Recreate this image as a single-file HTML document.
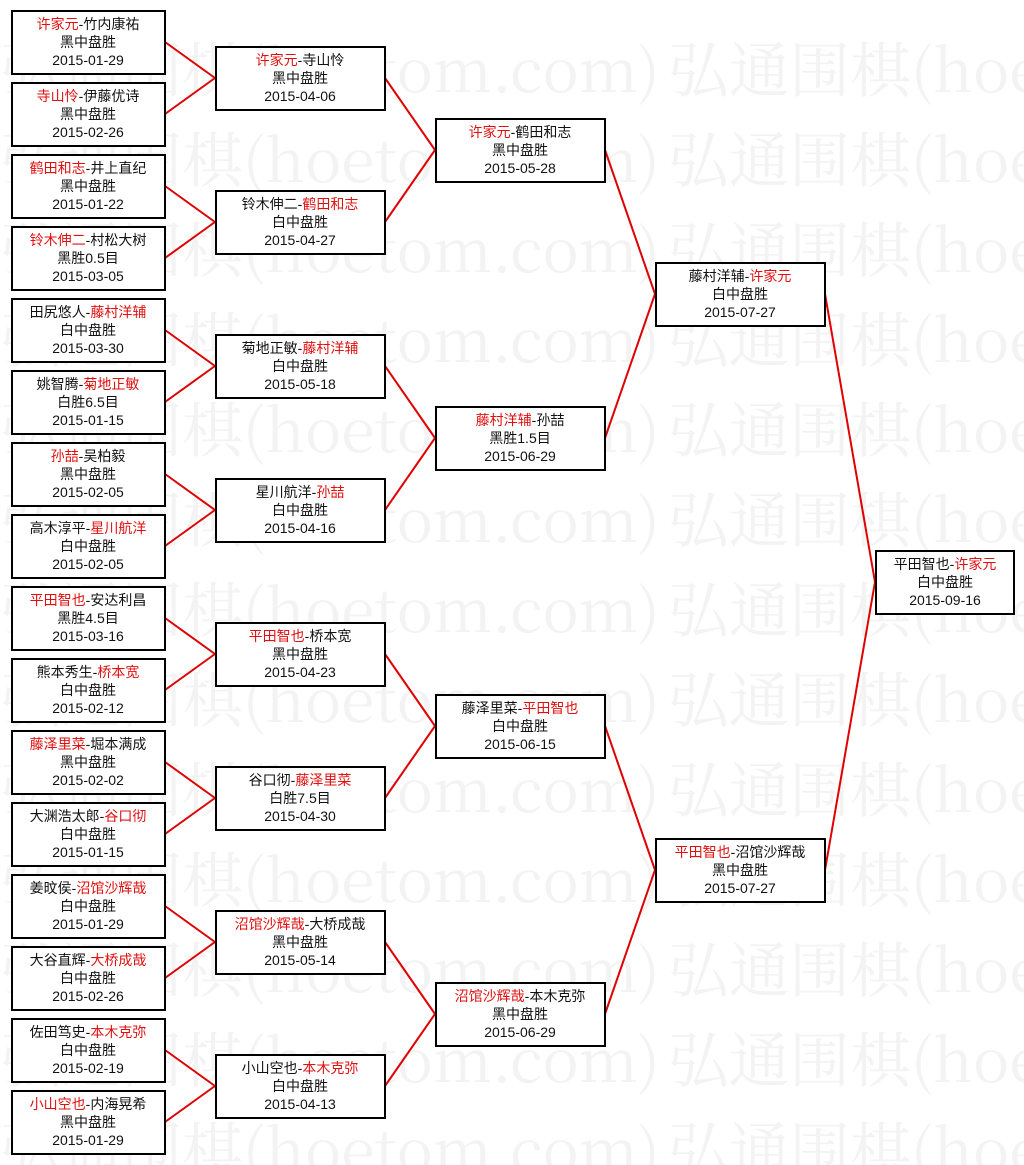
<!DOCTYPE html>
<html><head><meta charset="utf-8"><style>
html,body{margin:0;padding:0;background:#fff;width:1024px;height:1165px;overflow:hidden}
svg{display:block}
.wm{font-family:"Noto Serif CJK SC","Liberation Serif",serif;font-size:60px;fill:#f3f3f3}
.t{font-family:"Liberation Sans","Noto Sans CJK SC",sans-serif;font-size:14px;fill:#111;text-anchor:middle}
.r{fill:#e01010}
rect{fill:#fff;stroke:#000;stroke-width:2}
line{stroke:#e00000;stroke-width:2}
</style></head><body>
<svg width="1024" height="1165" xmlns="http://www.w3.org/2000/svg">
<g class="wm">
<text x="0" y="92" textLength="660" lengthAdjust="spacingAndGlyphs">弘通围棋(hoetom.com)</text><text x="668" y="92" textLength="660" lengthAdjust="spacingAndGlyphs">弘通围棋(hoetom.com)</text>
<text x="0" y="182" textLength="660" lengthAdjust="spacingAndGlyphs">弘通围棋(hoetom.com)</text><text x="668" y="182" textLength="660" lengthAdjust="spacingAndGlyphs">弘通围棋(hoetom.com)</text>
<text x="0" y="272" textLength="660" lengthAdjust="spacingAndGlyphs">弘通围棋(hoetom.com)</text><text x="668" y="272" textLength="660" lengthAdjust="spacingAndGlyphs">弘通围棋(hoetom.com)</text>
<text x="0" y="362" textLength="660" lengthAdjust="spacingAndGlyphs">弘通围棋(hoetom.com)</text><text x="668" y="362" textLength="660" lengthAdjust="spacingAndGlyphs">弘通围棋(hoetom.com)</text>
<text x="0" y="452" textLength="660" lengthAdjust="spacingAndGlyphs">弘通围棋(hoetom.com)</text><text x="668" y="452" textLength="660" lengthAdjust="spacingAndGlyphs">弘通围棋(hoetom.com)</text>
<text x="0" y="542" textLength="660" lengthAdjust="spacingAndGlyphs">弘通围棋(hoetom.com)</text><text x="668" y="542" textLength="660" lengthAdjust="spacingAndGlyphs">弘通围棋(hoetom.com)</text>
<text x="0" y="632" textLength="660" lengthAdjust="spacingAndGlyphs">弘通围棋(hoetom.com)</text><text x="668" y="632" textLength="660" lengthAdjust="spacingAndGlyphs">弘通围棋(hoetom.com)</text>
<text x="0" y="722" textLength="660" lengthAdjust="spacingAndGlyphs">弘通围棋(hoetom.com)</text><text x="668" y="722" textLength="660" lengthAdjust="spacingAndGlyphs">弘通围棋(hoetom.com)</text>
<text x="0" y="812" textLength="660" lengthAdjust="spacingAndGlyphs">弘通围棋(hoetom.com)</text><text x="668" y="812" textLength="660" lengthAdjust="spacingAndGlyphs">弘通围棋(hoetom.com)</text>
<text x="0" y="902" textLength="660" lengthAdjust="spacingAndGlyphs">弘通围棋(hoetom.com)</text><text x="668" y="902" textLength="660" lengthAdjust="spacingAndGlyphs">弘通围棋(hoetom.com)</text>
<text x="0" y="992" textLength="660" lengthAdjust="spacingAndGlyphs">弘通围棋(hoetom.com)</text><text x="668" y="992" textLength="660" lengthAdjust="spacingAndGlyphs">弘通围棋(hoetom.com)</text>
<text x="0" y="1082" textLength="660" lengthAdjust="spacingAndGlyphs">弘通围棋(hoetom.com)</text><text x="668" y="1082" textLength="660" lengthAdjust="spacingAndGlyphs">弘通围棋(hoetom.com)</text>
<text x="0" y="1172" textLength="660" lengthAdjust="spacingAndGlyphs">弘通围棋(hoetom.com)</text><text x="668" y="1172" textLength="660" lengthAdjust="spacingAndGlyphs">弘通围棋(hoetom.com)</text>
</g>
<g>
<line x1="165" y1="42" x2="215" y2="78"/><line x1="165" y1="114" x2="215" y2="78"/>
<line x1="165" y1="186" x2="215" y2="222"/><line x1="165" y1="258" x2="215" y2="222"/>
<line x1="165" y1="330" x2="215" y2="366"/><line x1="165" y1="402" x2="215" y2="366"/>
<line x1="165" y1="474" x2="215" y2="510"/><line x1="165" y1="546" x2="215" y2="510"/>
<line x1="165" y1="618" x2="215" y2="654"/><line x1="165" y1="690" x2="215" y2="654"/>
<line x1="165" y1="762" x2="215" y2="798"/><line x1="165" y1="834" x2="215" y2="798"/>
<line x1="165" y1="906" x2="215" y2="942"/><line x1="165" y1="978" x2="215" y2="942"/>
<line x1="165" y1="1050" x2="215" y2="1086"/><line x1="165" y1="1122" x2="215" y2="1086"/>
<line x1="385" y1="78" x2="435" y2="150"/><line x1="385" y1="222" x2="435" y2="150"/>
<line x1="385" y1="366" x2="435" y2="438"/><line x1="385" y1="510" x2="435" y2="438"/>
<line x1="385" y1="654" x2="435" y2="726"/><line x1="385" y1="798" x2="435" y2="726"/>
<line x1="385" y1="942" x2="435" y2="1014"/><line x1="385" y1="1086" x2="435" y2="1014"/>
<line x1="605" y1="150" x2="655" y2="294"/><line x1="605" y1="438" x2="655" y2="294"/>
<line x1="605" y1="726" x2="655" y2="870"/><line x1="605" y1="1014" x2="655" y2="870"/>
<line x1="825" y1="294" x2="875" y2="582"/><line x1="825" y1="870" x2="875" y2="582"/>
</g>
<g>
<rect x="12" y="11" width="153" height="63"/><text class="t" x="88" y="29"><tspan class="r">许家元</tspan>-竹内康祐<tspan x="88" dy="18">黑中盘胜</tspan><tspan x="88" dy="18">2015-01-29</tspan></text>
<rect x="12" y="83" width="153" height="63"/><text class="t" x="88" y="101"><tspan class="r">寺山怜</tspan>-伊藤优诗<tspan x="88" dy="18">黑中盘胜</tspan><tspan x="88" dy="18">2015-02-26</tspan></text>
<rect x="12" y="155" width="153" height="63"/><text class="t" x="88" y="173"><tspan class="r">鹤田和志</tspan>-井上直纪<tspan x="88" dy="18">黑中盘胜</tspan><tspan x="88" dy="18">2015-01-22</tspan></text>
<rect x="12" y="227" width="153" height="63"/><text class="t" x="88" y="245"><tspan class="r">铃木伸二</tspan>-村松大树<tspan x="88" dy="18">黑胜0.5目</tspan><tspan x="88" dy="18">2015-03-05</tspan></text>
<rect x="12" y="299" width="153" height="63"/><text class="t" x="88" y="317">田尻悠人-<tspan class="r">藤村洋辅</tspan><tspan x="88" dy="18">白中盘胜</tspan><tspan x="88" dy="18">2015-03-30</tspan></text>
<rect x="12" y="371" width="153" height="63"/><text class="t" x="88" y="389">姚智腾-<tspan class="r">菊地正敏</tspan><tspan x="88" dy="18">白胜6.5目</tspan><tspan x="88" dy="18">2015-01-15</tspan></text>
<rect x="12" y="443" width="153" height="63"/><text class="t" x="88" y="461"><tspan class="r">孙喆</tspan>-吴柏毅<tspan x="88" dy="18">黑中盘胜</tspan><tspan x="88" dy="18">2015-02-05</tspan></text>
<rect x="12" y="515" width="153" height="63"/><text class="t" x="88" y="533">高木淳平-<tspan class="r">星川航洋</tspan><tspan x="88" dy="18">白中盘胜</tspan><tspan x="88" dy="18">2015-02-05</tspan></text>
<rect x="12" y="587" width="153" height="63"/><text class="t" x="88" y="605"><tspan class="r">平田智也</tspan>-安达利昌<tspan x="88" dy="18">黑胜4.5目</tspan><tspan x="88" dy="18">2015-03-16</tspan></text>
<rect x="12" y="659" width="153" height="63"/><text class="t" x="88" y="677">熊本秀生-<tspan class="r">桥本宽</tspan><tspan x="88" dy="18">白中盘胜</tspan><tspan x="88" dy="18">2015-02-12</tspan></text>
<rect x="12" y="731" width="153" height="63"/><text class="t" x="88" y="749"><tspan class="r">藤泽里菜</tspan>-堀本满成<tspan x="88" dy="18">黑中盘胜</tspan><tspan x="88" dy="18">2015-02-02</tspan></text>
<rect x="12" y="803" width="153" height="63"/><text class="t" x="88" y="821">大渊浩太郎-<tspan class="r">谷口彻</tspan><tspan x="88" dy="18">白中盘胜</tspan><tspan x="88" dy="18">2015-01-15</tspan></text>
<rect x="12" y="875" width="153" height="63"/><text class="t" x="88" y="893">姜旼侯-<tspan class="r">沼馆沙辉哉</tspan><tspan x="88" dy="18">白中盘胜</tspan><tspan x="88" dy="18">2015-01-29</tspan></text>
<rect x="12" y="947" width="153" height="63"/><text class="t" x="88" y="965">大谷直辉-<tspan class="r">大桥成哉</tspan><tspan x="88" dy="18">白中盘胜</tspan><tspan x="88" dy="18">2015-02-26</tspan></text>
<rect x="12" y="1019" width="153" height="63"/><text class="t" x="88" y="1037">佐田笃史-<tspan class="r">本木克弥</tspan><tspan x="88" dy="18">白中盘胜</tspan><tspan x="88" dy="18">2015-02-19</tspan></text>
<rect x="12" y="1091" width="153" height="63"/><text class="t" x="88" y="1109"><tspan class="r">小山空也</tspan>-内海晃希<tspan x="88" dy="18">黑中盘胜</tspan><tspan x="88" dy="18">2015-01-29</tspan></text>

<rect x="216" y="47" width="169" height="63"/><text class="t" x="300" y="65"><tspan class="r">许家元</tspan>-寺山怜<tspan x="300" dy="18">黑中盘胜</tspan><tspan x="300" dy="18">2015-04-06</tspan></text>
<rect x="216" y="191" width="169" height="63"/><text class="t" x="300" y="209">铃木伸二-<tspan class="r">鹤田和志</tspan><tspan x="300" dy="18">白中盘胜</tspan><tspan x="300" dy="18">2015-04-27</tspan></text>
<rect x="216" y="335" width="169" height="63"/><text class="t" x="300" y="353">菊地正敏-<tspan class="r">藤村洋辅</tspan><tspan x="300" dy="18">白中盘胜</tspan><tspan x="300" dy="18">2015-05-18</tspan></text>
<rect x="216" y="479" width="169" height="63"/><text class="t" x="300" y="497">星川航洋-<tspan class="r">孙喆</tspan><tspan x="300" dy="18">白中盘胜</tspan><tspan x="300" dy="18">2015-04-16</tspan></text>
<rect x="216" y="623" width="169" height="63"/><text class="t" x="300" y="641"><tspan class="r">平田智也</tspan>-桥本宽<tspan x="300" dy="18">黑中盘胜</tspan><tspan x="300" dy="18">2015-04-23</tspan></text>
<rect x="216" y="767" width="169" height="63"/><text class="t" x="300" y="785">谷口彻-<tspan class="r">藤泽里菜</tspan><tspan x="300" dy="18">白胜7.5目</tspan><tspan x="300" dy="18">2015-04-30</tspan></text>
<rect x="216" y="911" width="169" height="63"/><text class="t" x="300" y="929"><tspan class="r">沼馆沙辉哉</tspan>-大桥成哉<tspan x="300" dy="18">黑中盘胜</tspan><tspan x="300" dy="18">2015-05-14</tspan></text>
<rect x="216" y="1055" width="169" height="63"/><text class="t" x="300" y="1073">小山空也-<tspan class="r">本木克弥</tspan><tspan x="300" dy="18">白中盘胜</tspan><tspan x="300" dy="18">2015-04-13</tspan></text>

<rect x="436" y="119" width="169" height="63"/><text class="t" x="520" y="137"><tspan class="r">许家元</tspan>-鹤田和志<tspan x="520" dy="18">黑中盘胜</tspan><tspan x="520" dy="18">2015-05-28</tspan></text>
<rect x="436" y="407" width="169" height="63"/><text class="t" x="520" y="425"><tspan class="r">藤村洋辅</tspan>-孙喆<tspan x="520" dy="18">黑胜1.5目</tspan><tspan x="520" dy="18">2015-06-29</tspan></text>
<rect x="436" y="695" width="169" height="63"/><text class="t" x="520" y="713">藤泽里菜-<tspan class="r">平田智也</tspan><tspan x="520" dy="18">白中盘胜</tspan><tspan x="520" dy="18">2015-06-15</tspan></text>
<rect x="436" y="983" width="169" height="63"/><text class="t" x="520" y="1001"><tspan class="r">沼馆沙辉哉</tspan>-本木克弥<tspan x="520" dy="18">黑中盘胜</tspan><tspan x="520" dy="18">2015-06-29</tspan></text>

<rect x="656" y="263" width="169" height="63"/><text class="t" x="740" y="281">藤村洋辅-<tspan class="r">许家元</tspan><tspan x="740" dy="18">白中盘胜</tspan><tspan x="740" dy="18">2015-07-27</tspan></text>
<rect x="656" y="839" width="169" height="63"/><text class="t" x="740" y="857"><tspan class="r">平田智也</tspan>-沼馆沙辉哉<tspan x="740" dy="18">黑中盘胜</tspan><tspan x="740" dy="18">2015-07-27</tspan></text>

<rect x="876" y="551" width="138" height="63"/><text class="t" x="945" y="569">平田智也-<tspan class="r">许家元</tspan><tspan x="945" dy="18">白中盘胜</tspan><tspan x="945" dy="18">2015-09-16</tspan></text>
</g>
</svg>
</body></html>
